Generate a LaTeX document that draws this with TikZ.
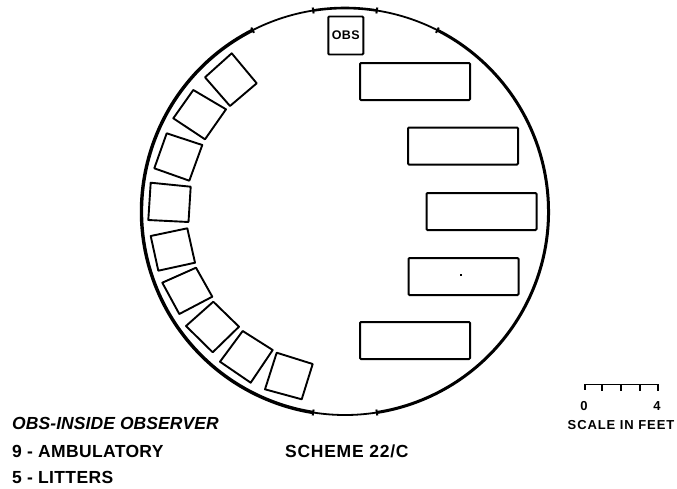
\documentclass[tikz,border=0pt]{standalone}
\usepackage{fontspec}
\setmainfont{Liberation Sans}
\tikzset{
  seat/.style={draw=black,line width=1.9pt,line join=round},
  litter/.style={draw=black,line width=2pt,rounded corners=1pt,minimum width=110pt,minimum height=37pt,inner sep=0pt,fill=white},
  lab/.style={font=\bfseries\fontsize{17.5}{19}\selectfont\addfontfeatures{LetterSpace=2},anchor=base west,inner sep=0pt},
  scl/.style={font=\bfseries\fontsize{13}{14}\selectfont},
  wall/.style={draw=black,line cap=butt},
  tick/.style={draw=black,line width=2pt}
}
\begin{document}
\begin{tikzpicture}[x=1pt,y=-1pt]
\useasboundingbox (0,0) rectangle (677,488);
\coordinate (c) at (345,211.5);
\def\R{203.5}
% hull, segment by segment (y axis runs downward, so angles are measured clockwise from +x)
\draw[wall,line width=3.4pt] (c) ++(-117:\R) arc[start angle=-117,end angle=-261,radius=\R];
\draw[wall,line width=1.8pt] (c) ++(-261:\R) arc[start angle=-261,end angle=-279,radius=\R];
\draw[wall,line width=3pt] (c) ++(-279:\R) arc[start angle=-279,end angle=-423,radius=\R];
\draw[wall,line width=1.8pt] (c) ++(-423:\R) arc[start angle=-423,end angle=-441,radius=\R];
\draw[wall,line width=2.6pt] (c) ++(-441:\R) arc[start angle=-441,end angle=-459,radius=\R];
\draw[wall,line width=1.8pt] (c) ++(-459:\R) arc[start angle=-459,end angle=-477,radius=\R];
% ticks
\foreach \a in {117,261,279,423,441,459}{
  \draw[tick] (c) ++(-\a:{\R-3}) -- ++(-\a:6);
}
% ambulatory seats
\draw[seat] (231.7,53.3)--(256.7,83.3)--(230,106)--(205,77.3)--cycle;
\draw[seat] (193.3,90)--(226,109.3)--(205,139.3)--(173.3,118.3)--cycle;
\draw[seat] (166.7,133.3)--(202.3,145)--(189.3,180.7)--(154.3,168.3)--cycle;
\draw[seat] (150.7,182.7)--(190.7,186.7)--(188.5,222)--(148.3,220)--cycle;
\draw[seat] (150.7,236)--(187.3,228.3)--(195,262.7)--(158.3,270.7)--cycle;
\draw[seat] (162.3,282.7)--(196,267.7)--(212.3,296.7)--(179.3,314)--cycle;
\draw[seat] (186,326)--(213.3,301.7)--(239,326.7)--(212.7,352.3)--cycle;
\draw[seat] (242.7,331)--(272.7,350)--(250.7,382.7)--(220,361.7)--cycle;
\draw[seat] (276.7,352.7)--(312.7,364)--(301.7,399.3)--(265,389.3)--cycle;
% observer
\node[draw=black,line width=1.9pt,rounded corners=1pt,minimum width=35pt,minimum height=38pt,inner sep=0pt,
      font=\bfseries\fontsize{12.5}{13}\selectfont\addfontfeatures{LetterSpace=3}] (obs) at (345.8,35.5) {OBS};
% litters
\node[litter] (l1) at (415,81.5) {};
\node[litter] (l2) at (463,146) {};
\node[litter] (l3) at (481.5,211.5) {};
\node[litter] (l4) at (463.5,276.5) {};
\node[litter] (l5) at (415,340.5) {};
\fill (459.5,274) rectangle (461.5,275.5);
% scale bar
\coordinate (s0) at (585,384.5);
\coordinate (s4) at (658,384.5);
\draw[line width=1.9pt] ([yshift=-5pt]s0) -- (s0) -- (s4) -- ([yshift=-6pt]s4);
\foreach \x in {602,621,640}{ \draw[line width=1.1pt] (\x,384.5) -- (\x,391); }
\node[scl] (n0) at (584,406.5) {0};
\node[scl] (n4) at (657,406.5) {4};
\node[scl,font=\bfseries\fontsize{13}{14}\selectfont\addfontfeatures{LetterSpace=7}] (sc) at (621,425) {SCALE IN FEET};
% legend
\node[lab,font=\bfseries\itshape\fontsize{17.5}{19}\selectfont\addfontfeatures{LetterSpace=0.5}] (t1) at (12,429) {OBS-INSIDE OBSERVER};
\node[lab] (t2) at (12,457) {9 - AMBULATORY};
\node[lab] (t3) at (12,483) {5 - LITTERS};
\node[lab,font=\bfseries\fontsize{17.5}{19}\selectfont\addfontfeatures{LetterSpace=4.2}] (t4) at (285,457.5) {SCHEME 22/C};
\end{tikzpicture}
\end{document}
